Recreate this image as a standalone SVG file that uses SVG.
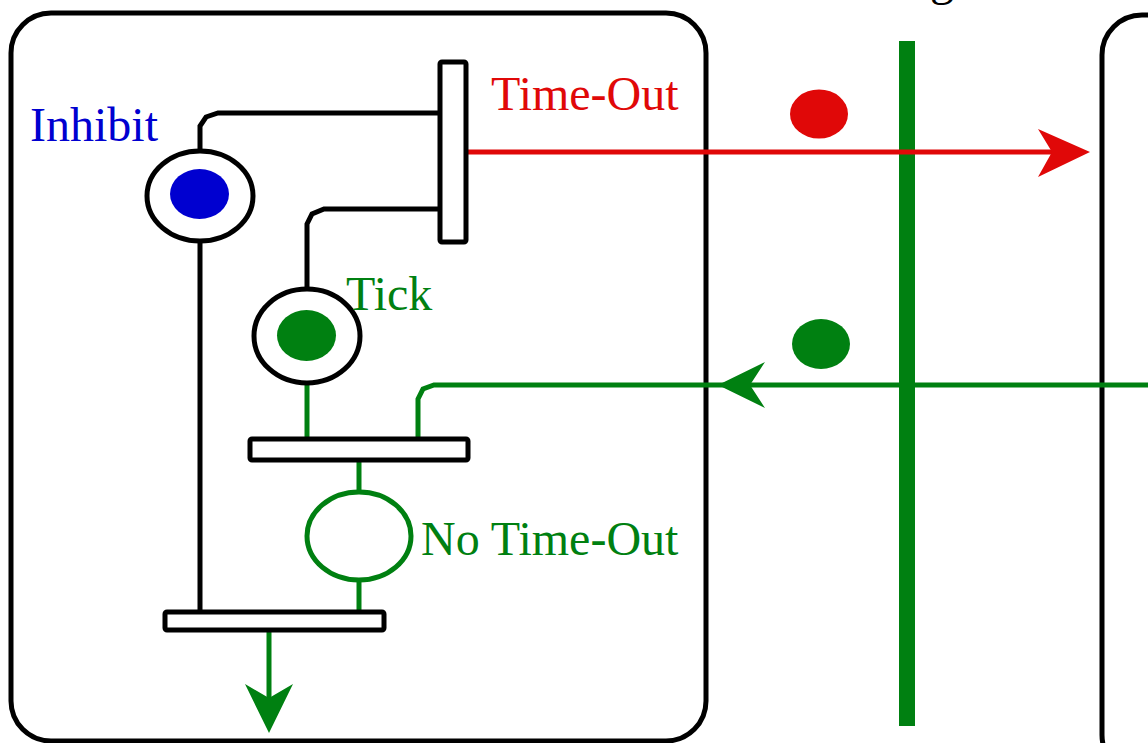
<svg xmlns="http://www.w3.org/2000/svg" width="1148" height="743" viewBox="0 0 1148 743">
<defs>
<style>
.box{fill:none;stroke:#000;stroke-width:5}
.place{fill:#fff;stroke:#000;stroke-width:5}
.gplace{fill:#fff;stroke:#008011;stroke-width:5}
.trans{fill:#fff;stroke:#000;stroke-width:5}
.blk{fill:none;stroke:#000;stroke-width:5}
.grn{fill:none;stroke:#008011;stroke-width:5}
.red{fill:none;stroke:#e00808;stroke-width:5}
.lbl{font-family:"Liberation Serif","Times New Roman",serif;font-size:48px}
</style>
</defs>
<rect width="1148" height="743" fill="#fff"/>
<text class="lbl" x="930" y="-5" fill="#000">g</text>
<g id="left-box"><rect class="box" x="11" y="13" width="695" height="728" rx="40"/></g>
<g id="right-box"><rect class="box" x="1102" y="15" width="220" height="760" rx="40"/></g>
<g id="connectors">
<path class="blk" d="M200,150 V126 L206,117 L218,113 H440"/>
<path class="blk" d="M307,289 V224 L312,214 L324,209 H440"/>
<path class="blk" d="M200,242 V612"/>
<path class="grn" d="M307,384 V439"/>
<path class="grn" d="M418,439 V399 L423,389 L434,385 H1148"/>
<polygon fill="#008011" points="718,385 765,362 750,385 765,408"/>
<path class="grn" d="M359,460 V491"/>
<path class="grn" d="M359,581 V612"/>
<path class="grn" d="M269,630 V705"/>
<polygon fill="#008011" points="269,733 245,684 269,698 293,684"/>
</g>
<g id="channel"><rect x="899" y="41" width="16" height="685" fill="#008011"/></g>
<g id="timeout-arrow">
<path class="red" d="M466,152 H1060"/>
<polygon fill="#e00808" points="1090,152 1038,129 1052,152 1038,177"/>
</g>
<g id="inhibit">
<ellipse class="place" cx="200" cy="196" rx="53" ry="45"/>
<ellipse cx="199.5" cy="194" rx="29.5" ry="25" fill="#0000d0"/>
<text class="lbl" x="30" y="141" fill="#0000d0">Inhibit</text>
</g>
<g id="timeout-transition">
<rect class="trans" x="440" y="62" width="26" height="180" rx="2"/>
<text class="lbl" x="491" y="110" fill="#e00808">Time-Out</text>
</g>
<g id="tick">
<ellipse class="place" cx="307" cy="336" rx="53" ry="47"/>
<ellipse cx="306.5" cy="335.5" rx="29.5" ry="25.5" fill="#008011"/>
<text class="lbl" x="346" y="310" fill="#008011">Tick</text>
</g>
<g id="tick-transition"><rect class="trans" x="250" y="439" width="218" height="21" rx="2"/></g>
<g id="no-timeout">
<ellipse class="gplace" cx="359" cy="536" rx="52" ry="44"/>
<text class="lbl" x="421" y="555" fill="#008011">No Time-Out</text>
</g>
<g id="final-transition"><rect class="trans" x="165" y="612" width="219" height="18" rx="2"/></g>
<g id="tokens">
<ellipse cx="819" cy="114" rx="29" ry="24.5" fill="#e00808"/>
<ellipse cx="821" cy="344" rx="29" ry="25" fill="#008011"/>
</g>
</svg>
